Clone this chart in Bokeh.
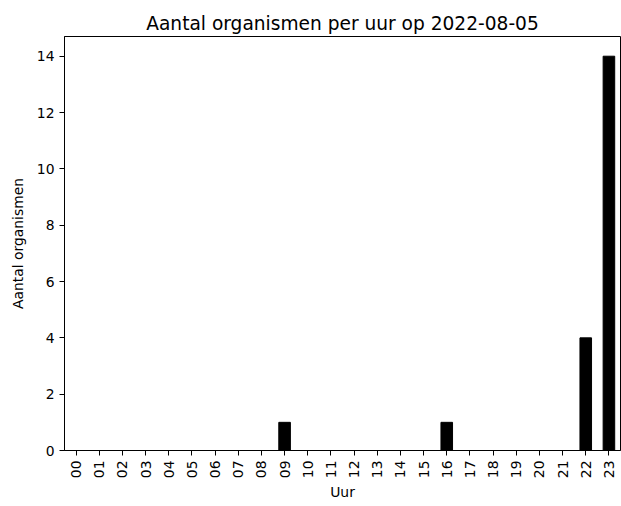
from bokeh.plotting import figure
from bokeh.models import FixedTicker, Range1d, ColumnDataSource
from bokeh.embed import file_html
from bokeh.resources import INLINE

hours = [f"{h:02d}" for h in range(24)]
counts = [0, 0, 0, 0, 0, 0, 0, 0, 0, 1, 0, 0, 0, 0, 0, 0, 1, 0, 0, 0, 0, 0, 4, 14]
y_ticks = [0, 2, 4, 6, 8, 10, 12, 14]

FONT = "DejaVu Sans"

p = figure(x_range=hours, y_range=Range1d(0, 14.7),
           frame_width=556, frame_height=414,
           min_border_left=64, min_border_right=1, min_border_top=36, min_border_bottom=40,
           output_backend="svg", toolbar_location=None,
           title="Aantal organismen per uur op 2022-08-05")

src = ColumnDataSource(dict(x=hours, y=counts))
p.vbar(x="x", top="y", width=0.5, source=src, fill_color="black", line_color="black")

p.title.align = "center"
p.title.text_font = FONT
p.title.text_font_size = "18.6px"
p.title.text_font_style = "normal"
p.title.text_color = "black"
p.title.offset = 0
p.title.standoff = 6

p.xgrid.visible = False
p.ygrid.visible = False
p.outline_line_color = "black"
p.outline_line_width = 1
p.outline_line_alpha = 1

p.x_range.range_padding = 0
p.x_range.factor_padding = 0

for ax in (p.xaxis[0], p.yaxis[0]):
    ax.axis_line_color = "black"
    ax.major_tick_in = 0
    ax.major_tick_out = 5
    ax.minor_tick_line_color = None
    ax.major_label_text_font = FONT
    ax.major_label_text_font_size = "13.9px"
    ax.major_label_text_color = "black"
    ax.axis_label_text_font = FONT
    ax.axis_label_text_font_size = "13.9px"
    ax.axis_label_text_font_style = "normal"
    ax.axis_label_text_color = "black"

p.yaxis[0].ticker = FixedTicker(ticks=y_ticks)
p.yaxis[0].axis_label = "Aantal organismen"
p.xaxis[0].axis_label = "Uur"
p.xaxis[0].major_label_orientation = 1.5708
p.xaxis[0].axis_label_standoff = 3
p.yaxis[0].axis_label_standoff = 8

open("out.html", "w").write(file_html(p, INLINE))
